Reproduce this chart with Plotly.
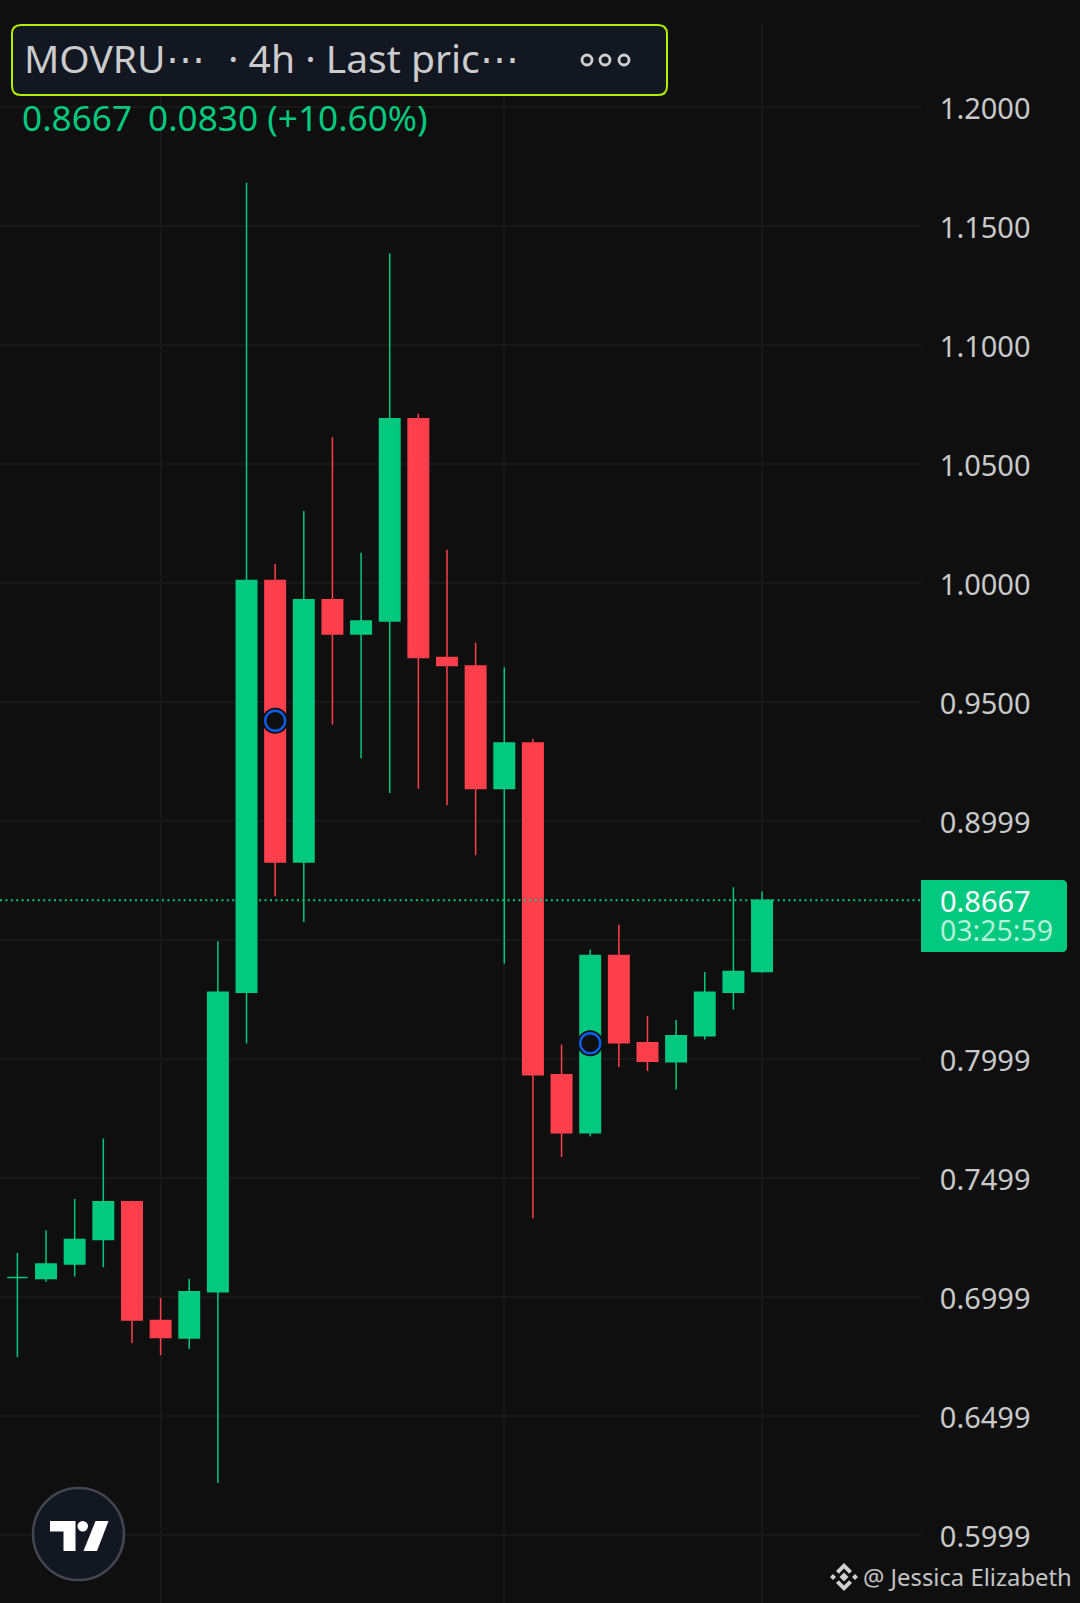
import plotly.graph_objects as go

W, H = 1080, 1603
FONT = "Noto Sans"
BG = "#0f0f0f"
GREEN = "#02c97f"
RED = "#ff3f4b"
GRID = "#181818"
TEXT = "#c9c9c9"

index = list(range(27))
opens = [.7082, .7078, .7138, .7241, .7400, .6901, .6828, .7022, .8280, 1.0011, .8828, .9930, .9786, .9840,
         1.0690, .9687, .9651, .9137, .9328, .7934, .7690, .8435, .8068, .7988, .8098, .8280, .8368]
closes = [.7082, .7138, .7241, .7400, .6903, .6830, .7022, .8280, 1.0011, .8828, .9930, .9786, .9840, 1.0690,
          .9687, .9653, .9137, .9328, .7934, .7690, .8435, .8068, .7990, .8098, .8280, .8368, .8667]
highs = [.7185, .7279, .7412, .7666, .7404, .6996, .7077, .8495, 1.1682, 1.0080, 1.0303, 1.0613, 1.0127, 1.1386,
         1.0711, 1.0140, .9749, .9646, .9345, .8061, .8460, .8564, .8181, .8164, .8366, .8722, .8705]
lows = [.6747, .7064, .7086, .7125, .6807, .6755, .6781, .6218, .8065, .8684, .8576, .9405, .9264, .9118,
        .9135, .9066, .8856, .8400, .7331, .7588, .7674, .7966, .7949, .7872, .8082, .8207, .8362]

tick_values = [1.2, 1.15, 1.1, 1.05, 1.0, .95, .9, .85, .8, .75, .7, .65, .6]
tick_labels = ["1.2000", "1.1500", "1.1000", "1.0500", "1.0000", "0.9500", "0.8999", "",
               "0.7999", "0.7499", "0.6999", "0.6499", "0.5999"]
time_grid = [5, 17, 26]
marker_index = [9, 20]
marker_price = [.9421, .8066]
last_price = .8667


def px(x):
    return x / W


def py(y):
    return 1 - y / H


def rounded(x0, y0, x1, y1, r, left=True):
    a, b = px(x0), px(x1)
    c, d = py(y0), py(y1)
    rx, ry = r / W, r / H
    if left:
        return (f"M{a+rx},{c} L{b-rx},{c} Q{b},{c} {b},{c-ry} L{b},{d+ry} Q{b},{d} {b-rx},{d} "
                f"L{a+rx},{d} Q{a},{d} {a},{d+ry} L{a},{c-ry} Q{a},{c} {a+rx},{c} Z")
    return (f"M{a},{c} L{b-rx},{c} Q{b},{c} {b},{c-ry} L{b},{d+ry} Q{b},{d} {b-rx},{d} L{a},{d} Z")


def poly(points):
    return "M" + " L".join(f"{px(x)},{py(y)}" for x, y in points) + " Z"


fig = go.Figure()
fig.add_trace(go.Candlestick(
    x=index, open=opens, high=highs, low=lows, close=closes,
    increasing=dict(line=dict(color=GREEN, width=1.5), fillcolor=GREEN),
    decreasing=dict(line=dict(color=RED, width=1.5), fillcolor=RED),
    whiskerwidth=0, hoverinfo="skip", showlegend=False,
))
fig.add_trace(go.Scatter(x=marker_index, y=marker_price, mode="markers", hoverinfo="skip", showlegend=False,
                         marker=dict(size=26, color=BG, line=dict(width=0))))
fig.add_trace(go.Scatter(x=marker_index, y=marker_price, mode="markers", hoverinfo="skip", showlegend=False,
                         marker=dict(size=20, color=BG, line=dict(width=2.4, color="#0b5fe6"))))
fig.add_trace(go.Scatter(x=[-0.6075, 31.55], y=[last_price, last_price], mode="lines", hoverinfo="skip",
                         showlegend=False, line=dict(color=GREEN, width=2, dash="2px 3.4px")))

shapes = [
    dict(type="path", path=rounded(12, 25, 667, 95, 9), fillcolor="#131722", line=dict(color="#b2f000", width=2)),
    dict(type="path", path=rounded(921, 880, 1067, 952, 5, left=False), fillcolor=GREEN, line=dict(width=0)),
    dict(type="circle", x0=px(33), x1=px(124), y0=py(1488), y1=py(1580), fillcolor="#131722",
         line=dict(color="#434651", width=2.5)),
    dict(type="path", path=poly([(50, 1521), (75.5, 1521), (75.5, 1551), (63.5, 1551), (63.5, 1531.5), (50, 1531.5)]),
         fillcolor="white", line=dict(width=0)),
    dict(type="circle", x0=px(77.5), x1=px(88), y0=py(1521), y1=py(1531.5), fillcolor="white", line=dict(width=0)),
    dict(type="path", path=poly([(95.5, 1521), (108.5, 1521), (97, 1551), (83.5, 1551)]), fillcolor="white",
         line=dict(width=0)),
]
for cx in (587, 605, 624):
    shapes.append(dict(type="circle", x0=px(cx - 5), x1=px(cx + 5), y0=py(55), y1=py(65),
                       fillcolor="rgba(0,0,0,0)", line=dict(color="#cfcfcf", width=2.8)))
# Binance mark beside the watermark
bx, by = 844, 1577
ic = "#d0d0d0"
shapes += [
    dict(type="path", path=poly([(bx, by - 4.5), (bx + 4.5, by), (bx, by + 4.5), (bx - 4.5, by)]), fillcolor=ic, line=dict(width=0)),
    dict(type="path", path=poly([(bx, by - 14), (bx + 8, by - 6), (bx + 5.2, by - 3.2), (bx, by - 8.4), (bx - 5.2, by - 3.2), (bx - 8, by - 6)]), fillcolor=ic, line=dict(width=0)),
    dict(type="path", path=poly([(bx, by + 14), (bx + 8, by + 6), (bx + 5.2, by + 3.2), (bx, by + 8.4), (bx - 5.2, by + 3.2), (bx - 8, by + 6)]), fillcolor=ic, line=dict(width=0)),
    dict(type="path", path=poly([(bx - 14, by), (bx - 11, by - 3), (bx - 8, by), (bx - 11, by + 3)]), fillcolor=ic, line=dict(width=0)),
    dict(type="path", path=poly([(bx + 14, by), (bx + 11, by - 3), (bx + 8, by), (bx + 11, by + 3)]), fillcolor=ic, line=dict(width=0)),
]
for s in shapes:
    s["xref"] = "paper"
    s["yref"] = "paper"


def note(x, y, text, size, color, family=FONT):
    return dict(xref="paper", yref="paper", x=px(x), y=py(y), text=text, showarrow=False, xanchor="left",
                yanchor="middle", align="left", font=dict(family=family, size=size, color=color))


annotations = [
    note(22, 57, "MOVRU\u22ef", 39, "#cccccc"),
    note(226, 57, "\u00b7 4h \u00b7 Last pric\u22ef", 39, "#cccccc"),
    note(20, 117, "0.8667", 35.2, GREEN),
    note(146, 117, "0.0830 (+10.60%)", 35.2, GREEN),
    note(938, 900, "0.8667", 29, "#ffffff"),
    note(938, 930, "03:25:59", 28.5, "#b3f0d8"),
    note(861, 1577, "@ Jessica Elizabeth", 23.8, "#c4c4c4"),
]

fig.update_layout(
    width=W, height=H, margin=dict(l=0, r=0, t=0, b=0), paper_bgcolor=BG, plot_bgcolor=BG,
    shapes=shapes, annotations=annotations, showlegend=False, hovermode=False,
    font=dict(family=FONT, color=TEXT), boxgap=0.285, boxgroupgap=0,
    xaxis=dict(domain=[0, 921 / W], range=[-0.6075, 31.55], rangeslider=dict(visible=False), tickmode="array",
               tickvals=time_grid, showticklabels=False, ticks="", showgrid=True, gridcolor=GRID, gridwidth=1.5,
               zeroline=False, showline=False),
    yaxis=dict(domain=[0, 1 - 24 / H], range=[.5714, 1.2349], side="right", tickmode="array",
               tickvals=tick_values, ticktext=tick_labels, ticks="outside", ticklen=12, tickcolor="rgba(0,0,0,0)",
               showgrid=True, gridcolor=GRID, gridwidth=1.5, zeroline=False, showline=False,
               ticklabelshift=2, tickfont=dict(family=FONT, size=29, color=TEXT)),
)

fig.write_html("out.html", config=dict(displayModeBar=False),
               post_script="document.body.style.margin='0';document.body.style.background='#0f0f0f';document.documentElement.style.overflow='hidden';")
